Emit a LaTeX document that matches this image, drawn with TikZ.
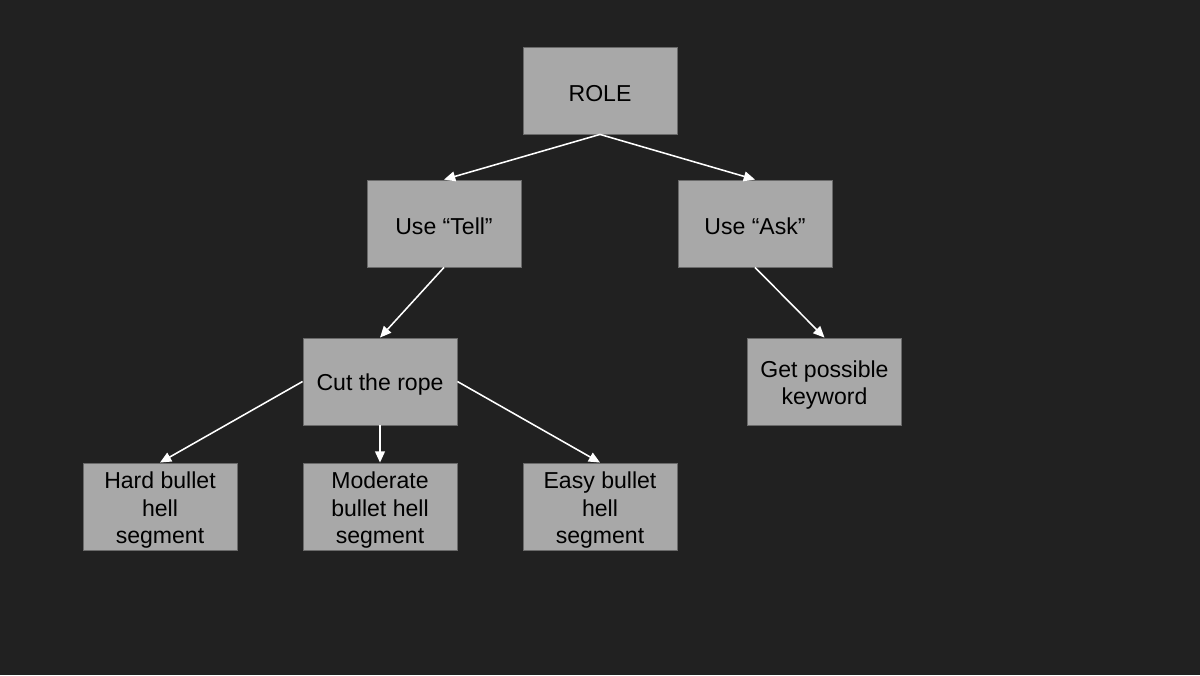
\documentclass[tikz,border=0pt]{standalone}
\usepackage{fontspec}
\setmainfont{Liberation Sans}
\usepackage{xcolor}
\usetikzlibrary{arrows.meta}

\definecolor{bgdark}{HTML}{212121}
\definecolor{boxfill}{HTML}{A8A8A8}
\definecolor{boxline}{HTML}{6A6A6A}

\newcommand{\toplift}{\rule{0pt}{17pt}}

\tikzset{
  box/.style={draw=boxline, fill=boxfill, line width=0.6pt, minimum width=3.85cm,
    minimum height=2.175cm, align=center, inner xsep=2pt, inner ysep=0pt,
    font=\fontsize{16.4}{19.6}\selectfont, text=black,
    execute at begin node={\rule{0pt}{16pt}}},
  link/.style={draw=white, line width=1.1pt, -{Triangle[width=7pt,length=8pt]}}
}

\begin{document}
\begin{tikzpicture}[scale=1]
\fill[bgdark] (0,0) rectangle (30,16.875);
\useasboundingbox (0,0) rectangle (30,16.875);

\node[box] (role) at (15,14.6125) {ROLE};
\node[box] (tell) at (11.1,11.2875) {Use “Tell”};
\node[box] (ask) at (18.875,11.2875) {Use “Ask”};
\node[box] (rope) at (9.5,7.3375) {Cut the rope};
\node[box] (keyword) at (20.6125,7.3375) {\toplift Get possible\\keyword};
\node[box] (hard) at (4,4.2125) {\toplift Hard bullet\\hell\\segment};
\node[box] (moderate) at (9.5,4.2125) {\toplift Moderate\\bullet hell\\segment};
\node[box] (easy) at (15,4.2125) {\toplift Easy bullet\\hell\\segment};

\draw[link] (role.south) -- (tell.north);
\draw[link] (role.south) -- (ask.north);
\draw[link] (tell.south) -- (rope.north);
\draw[link] (ask.south) -- (keyword.north);
\draw[link] (rope.west) -- (hard.north);
\draw[link] (rope.south) -- (moderate.north);
\draw[link] (rope.east) -- (easy.north);
\end{tikzpicture}
\end{document}
